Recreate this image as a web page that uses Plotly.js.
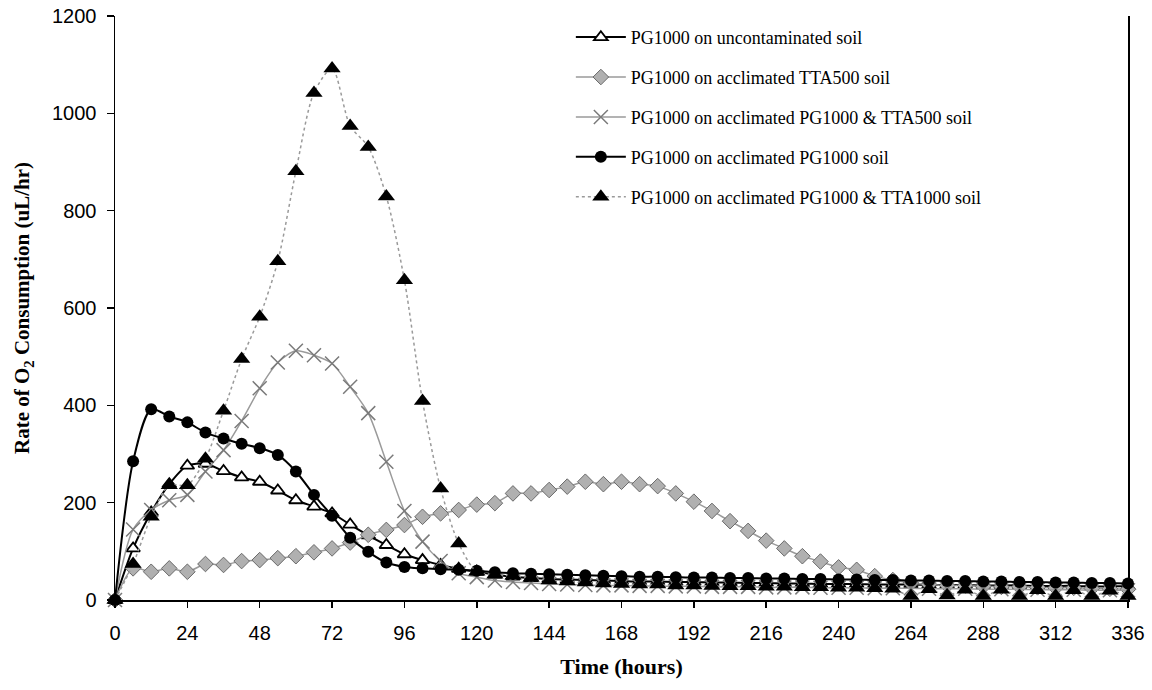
<!DOCTYPE html>
<html>
<head>
<meta charset="utf-8">
<script src="https://cdn.plot.ly/plotly-3.0.1.min.js"></script>
<style>
  html, body { margin: 0; padding: 0; background: #fff; }
  #chart { width: 1152px; height: 690px; }
</style>
</head>
<body>
<div id="chart"></div>
<script>
// Sampling times (hours)
const hours = [0, 6, 12, 18, 24, 30, 36, 42, 48, 54, 60, 66, 72, 78, 84, 90, 96, 102, 108, 114,
  120, 126, 132, 138, 144, 150, 156, 162, 168, 174, 180, 186, 192, 198, 204, 210, 216, 222, 228,
  234, 240, 246, 252, 258, 264, 270, 276, 282, 288, 294, 300, 306, 312, 318, 324, 330, 336];

// Rate of O2 consumption (uL/hr) for each soil
const uncontaminated = [0, 106, 180, 238, 276, 280, 265, 252, 243, 225, 205, 192, 178, 155, 133, 113, 94, 82, 72, 64,
  58, 52, 48, 45, 43, 42, 41, 40, 39, 38, 38, 37, 37, 36, 36, 35, 35, 34, 34, 33, 33, 33, 32, 32, 32,
  31, 31, 31, 30, 30, 30, 29, 29, 29, 28, 28, 28];
const acclimTTA500 = [0, 65, 58, 65, 58, 74, 72, 80, 82, 86, 90, 98, 106, 118, 134, 144, 154, 171, 178, 185,
  196, 199, 219, 219, 226, 233, 243, 238, 243, 238, 234, 219, 202, 183, 162, 142, 122, 106, 90,
  79, 67, 62, 49, 41, 35, 32, 30, 30, 28, 27, 27, 26, 25, 25, 24, 23, 22];
const acclimPG1000TTA500 = [0, 145, 185, 205, 216, 264, 308, 368, 435, 488, 512, 503, 486, 438, 384, 284, 183, 120, 80, 55,
  47, 40, 37, 35, 33, 32, 31, 30, 30, 29, 29, 28, 28, 27, 27, 27, 26, 26, 26, 25, 25, 25, 24, 24, 24,
  23, 23, 23, 22, 22, 22, 21, 21, 21, 20, 20, 20];
const acclimPG1000 = [0, 285, 392, 377, 365, 344, 332, 321, 312, 298, 264, 216, 173, 128, 99, 77, 68, 65, 63, 62,
  60, 57, 55, 54, 53, 52, 51, 50, 49, 48, 48, 47, 46, 46, 45, 45, 44, 44, 43, 43, 42, 42, 41, 41, 40,
  40, 39, 39, 38, 38, 37, 37, 36, 36, 35, 35, 34];
const acclimPG1000TTA1000 = [0, 74, 171, 236, 236, 290, 389, 495, 582, 696, 881, 1042, 1092, 974, 931, 829, 657, 409, 229, 116,
  58, 52, 50, 45, 40, 38, 36, 34, 33, 32, 32, 30, 30, 29, 28, 28, 27, 27, 26, 26, 25, 25, 24, 23, 8,
  22, 9, 21, 8, 21, 8, 20, 8, 20, 8, 19, 8];

const seriesNames = [
  'PG1000 on uncontaminated soil',
  'PG1000 on acclimated TTA500 soil',
  'PG1000 on acclimated PG1000 &amp; TTA500 soil',
  'PG1000 on acclimated PG1000 soil',
  'PG1000 on acclimated PG1000 &amp; TTA1000 soil'
];

const smooth = { shape: 'spline', smoothing: 0.8 };

const traces = [
  {
    x: hours, y: uncontaminated, name: seriesNames[0], legendgroup: 'a',
    mode: 'lines+markers', cliponaxis: false,
    line: Object.assign({ color: '#000000', width: 2 }, smooth),
    marker: { symbol: 'triangle-up', size: 12, color: '#ffffff', line: { color: '#000000', width: 1.8 } }
  },
  {
    x: hours, y: acclimTTA500, name: seriesNames[1], legendgroup: 'b',
    mode: 'lines+markers', cliponaxis: false,
    line: Object.assign({ color: '#9a9a9a', width: 1.5 }, smooth),
    marker: { symbol: 'diamond', size: 12, color: '#b0b0b0', line: { color: '#6a6a6a', width: 1 } }
  },
  {
    x: hours, y: acclimPG1000TTA500, name: seriesNames[2], legendgroup: 'c',
    mode: 'lines+markers', cliponaxis: false,
    line: Object.assign({ color: '#9a9a9a', width: 1.5 }, smooth),
    marker: { symbol: 'x-thin-open', size: 14, color: '#7a7a7a', line: { color: '#7a7a7a', width: 1.5 } }
  },
  {
    x: hours, y: acclimPG1000, name: seriesNames[3], legendgroup: 'd',
    mode: 'lines+markers', cliponaxis: false,
    line: Object.assign({ color: '#000000', width: 2 }, smooth),
    marker: { symbol: 'circle', size: 12, color: '#000000' }
  },
  {
    x: hours, y: acclimPG1000TTA1000, name: seriesNames[4], legendgroup: 'e',
    mode: 'lines+markers', cliponaxis: false,
    line: Object.assign({ color: '#9a9a9a', width: 1.5, dash: 'dot' }, smooth),
    marker: { symbol: 'triangle-up', size: 15, color: '#000000' }
  }
];

const tickFont = { family: 'Liberation Sans, Arial, sans-serif', size: 20, color: '#000' };
const titleFont = { family: 'Liberation Serif, Times New Roman, serif', size: 21, color: '#000', weight: 'bold' };

const layout = {
  width: 1152, height: 690,
  margin: { l: 115, r: 24, t: 16, b: 90 },
  paper_bgcolor: '#ffffff', plot_bgcolor: '#ffffff',
  showlegend: true,
  legend: {
    x: 0.45, y: 0.995, xanchor: 'left', yanchor: 'top',
    bgcolor: 'rgba(0,0,0,0)', traceorder: 'grouped', tracegroupgap: 13.5,
    font: { family: 'Liberation Serif, Times New Roman, serif', size: 18, color: '#000' },
    itemwidth: 50
  },
  xaxis: {
    range: [0, 336], tickmode: 'array',
    tickvals: [0, 24, 48, 72, 96, 120, 144, 168, 192, 216, 240, 264, 288, 312, 336],
    ticks: 'outside', ticklen: 6, tickcolor: '#000', tickwidth: 1.5,
    ticklabelstandoff: 8,
    showline: true, linecolor: '#000', linewidth: 1.5, mirror: false,
    showgrid: false, zeroline: false, tickfont: tickFont,
    title: { text: 'Time (hours)', font: Object.assign({}, titleFont, { size: 22 }), standoff: 16 }
  },
  yaxis: {
    range: [0, 1200], tickmode: 'array', tickvals: [0, 200, 400, 600, 800, 1000, 1200],
    ticks: 'outside', ticklen: 7, tickcolor: '#000', tickwidth: 1.5,
    ticklabelstandoff: 6,
    showline: true, linecolor: '#000', linewidth: 1.5, mirror: true,
    showgrid: false, zeroline: false, tickfont: tickFont,
    title: { text: 'Rate of O<sub>2</sub> Consumption (uL/hr)', font: titleFont, standoff: 16 }
  }
};

Plotly.newPlot('chart', traces, layout, { displayModeBar: false, staticPlot: true });
</script>
</body>
</html>
